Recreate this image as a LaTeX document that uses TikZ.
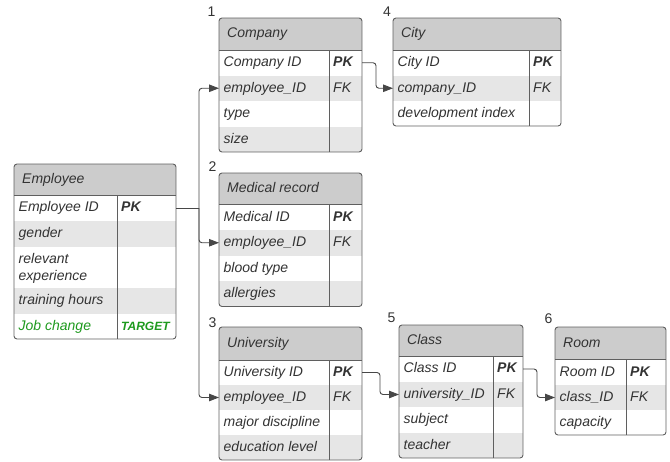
\documentclass[tikz,border=0pt]{standalone}
\usepackage{fontspec}
\setmainfont{Liberation Sans}
\usetikzlibrary{arrows.meta}
\definecolor{hdr}{HTML}{CCCCCC}
\definecolor{alt}{HTML}{E6E6E6}
\definecolor{bord}{HTML}{5F5F5F}
\definecolor{ink}{HTML}{333333}
\definecolor{grn}{HTML}{1E9A1E}
\definecolor{conn}{HTML}{474747}
\tikzset{
 cell/.style={anchor=north west, inner sep=0pt, outer sep=0pt, draw=none},
 txt/.style={anchor=west, inner sep=0pt, text=ink, font=\itshape\fontsize{14}{17}\selectfont, text height=10.5pt, text depth=3pt},
 txtm/.style={anchor=west, inner sep=0pt, text=ink, font=\itshape\fontsize{14}{17}\selectfont, align=left},
 num/.style={inner sep=0pt, text=ink, font=\fontsize{14}{17}\selectfont},
 border/.style={draw=bord, line width=0.9pt},
 link/.style={draw=conn, line width=0.9pt, rounded corners=3pt},
 tip/.style={-{Triangle[length=10pt,width=7.5pt]}},
}
% #1 name, #2 L, #3 C, #4 R, #5 top, #6 bottom, #7 fill, #8 text1, #9 text2
\newcommand\erow[9]{%
 \node[cell, fill=#7, minimum width={#3-#2}, minimum height={#6-#5}] (#1a) at (#2,#5) {};
 \node[cell, fill=#7, minimum width={#4-#3}, minimum height={#6-#5}] (#1b) at (#3,#5) {};
 \node[txt] (#1ta) at ([xshift=4.5pt]#1a.west) {#8};
 \node[txt] (#1tb) at ([xshift=4pt]#1b.west) {#9};
}
% #1 L, #2 T, #3 R, #4 B, #5 HB, #6 C
\newcommand\eframe[6]{%
 \draw[border, rounded corners=3pt] (#1,#2) rectangle (#3,#4);
 \draw[border] (#1,#5) -- (#3,#5);
 \draw[border] (#6,#5) -- (#6,#4);
}
\begin{document}
\begin{tikzpicture}[x=1pt,y=-1pt]
\useasboundingbox (0,0) rectangle (670,461);

% ---------------- Employee
\begin{scope}
\clip[rounded corners=3pt] (14,164) rectangle (176,339);
\fill[hdr] (14,164) rectangle (176,195);
\erow{emp1}{14}{117}{176}{195}{221}{white}{Employee ID}{\bfseries PK}
\erow{emp2}{14}{117}{176}{221}{247}{alt}{gender}{}
\node[cell, fill=white, minimum width=103, minimum height=41] (emp3a) at (14,247) {};
\node[cell, fill=white, minimum width=59, minimum height=41] (emp3b) at (117,247) {};
\erow{emp4}{14}{117}{176}{288}{314}{alt}{training hours}{}
\erow{emp5}{14}{117}{176}{314}{339}{white}{\color{grn}Job change}{\color{grn}\bfseries\fontsize{12}{14}\selectfont TARGET}
\end{scope}
\node[txtm] (emp3ta) at ([xshift=4.5pt,yshift=-1pt]emp3a.west) {relevant\\experience};
\node[txt] (emptitle) at (22,179.5) {Employee};
\eframe{14}{164}{176}{339}{195}{117}

% ---------------- Company
\begin{scope}
\clip[rounded corners=3pt] (219,18) rectangle (362,152);
\fill[hdr] (219,18) rectangle (362,50);
\erow{comp1}{219}{329}{362}{50}{75.5}{white}{Company ID}{\bfseries PK}
\erow{comp2}{219}{329}{362}{75.5}{101}{alt}{employee\_ID}{FK}
\erow{comp3}{219}{329}{362}{101}{126.5}{white}{type}{}
\erow{comp4}{219}{329}{362}{126.5}{152}{alt}{size}{}
\end{scope}
\node[txt] (comptitle) at (227,34) {Company};
\eframe{219}{18}{362}{152}{50}{329}
\node[num] (n1) at (211.5,12) {1};

% ---------------- City
\begin{scope}
\clip[rounded corners=3pt] (393,18) rectangle (561,126);
\fill[hdr] (393,18) rectangle (561,50);
\erow{city1}{393}{529}{561}{50}{75.5}{white}{City ID}{\bfseries PK}
\erow{city2}{393}{529}{561}{75.5}{101}{alt}{company\_ID}{FK}
\erow{city3}{393}{529}{561}{101}{126}{white}{development index}{}
\end{scope}
\node[txt] (citytitle) at (401,34) {City};
\eframe{393}{18}{561}{126}{50}{529}
\node[num] (n4) at (387,12) {4};

% ---------------- Medical record
\begin{scope}
\clip[rounded corners=3pt] (219,173) rectangle (362,306.5);
\fill[hdr] (219,173) rectangle (362,204.5);
\erow{med1}{219}{329}{362}{204.5}{230}{white}{Medical ID}{\bfseries PK}
\erow{med2}{219}{329}{362}{230}{255.5}{alt}{employee\_ID}{FK}
\erow{med3}{219}{329}{362}{255.5}{281}{white}{blood type}{}
\erow{med4}{219}{329}{362}{281}{306.5}{alt}{allergies}{}
\end{scope}
\node[txt] (medtitle) at (227,188.7) {Medical record};
\eframe{219}{173}{362}{306.5}{204.5}{329}
\node[num] (n2) at (212.5,167) {2};

% ---------------- University
\begin{scope}
\clip[rounded corners=3pt] (219,327) rectangle (362,460);
\fill[hdr] (219,327) rectangle (362,360);
\erow{uni1}{219}{329}{362}{360}{385}{white}{University ID}{\bfseries PK}
\erow{uni2}{219}{329}{362}{385}{410}{alt}{employee\_ID}{FK}
\erow{uni3}{219}{329}{362}{410}{435}{white}{major discipline}{}
\erow{uni4}{219}{329}{362}{435}{460}{alt}{education level}{}
\end{scope}
\node[txt] (unititle) at (227,343.5) {University};
\eframe{219}{327}{362}{460}{360}{329}
\node[num] (n3) at (212.5,323) {3};

% ---------------- Class
\begin{scope}
\clip[rounded corners=3pt] (399,325) rectangle (523,458);
\fill[hdr] (399,325) rectangle (523,356);
\erow{cls1}{399}{493}{523}{356}{382}{white}{Class ID}{\bfseries PK}
\erow{cls2}{399}{493}{523}{382}{407}{alt}{university\_ID}{FK}
\erow{cls3}{399}{493}{523}{407}{433}{white}{subject}{}
\erow{cls4}{399}{493}{523}{433}{458}{alt}{teacher}{}
\end{scope}
\node[txt] (clstitle) at (407,340.5) {Class};
\eframe{399}{325}{523}{458}{356}{493}
\node[num] (n5) at (391.5,318) {5};

% ---------------- Room
\begin{scope}
\clip[rounded corners=3pt] (555,327) rectangle (666,435);
\fill[hdr] (555,327) rectangle (666,359.5);
\erow{room1}{555}{626}{666}{359.5}{385}{white}{Room ID}{\bfseries PK}
\erow{room2}{555}{626}{666}{385}{410}{alt}{class\_ID}{FK}
\erow{room3}{555}{626}{666}{410}{435}{white}{capacity}{}
\end{scope}
\node[txt] (roomtitle) at (563,343.4) {Room};
\eframe{555}{327}{666}{435}{359.5}{626}
\node[num] (n6) at (548.5,319) {6};

% ---------------- connectors
\draw[link] (emp1b.east) -- ++(23,0) coordinate (hub);
\draw[link, tip] (hub) |- (comp2a.west);
\draw[link, tip] (hub) |- (med2a.west);
\draw[link, tip] (hub) |- (uni2a.west);
\draw[link, tip] (comp1b.east) -- ++(14,0) |- (city2a.west);
\draw[link, tip] (uni1b.east) -- ++(18,0) |- (cls2a.west);
\draw[link, tip] (cls1b.east) -- ++(14,0) |- (room2a.west);
\end{tikzpicture}
\end{document}
